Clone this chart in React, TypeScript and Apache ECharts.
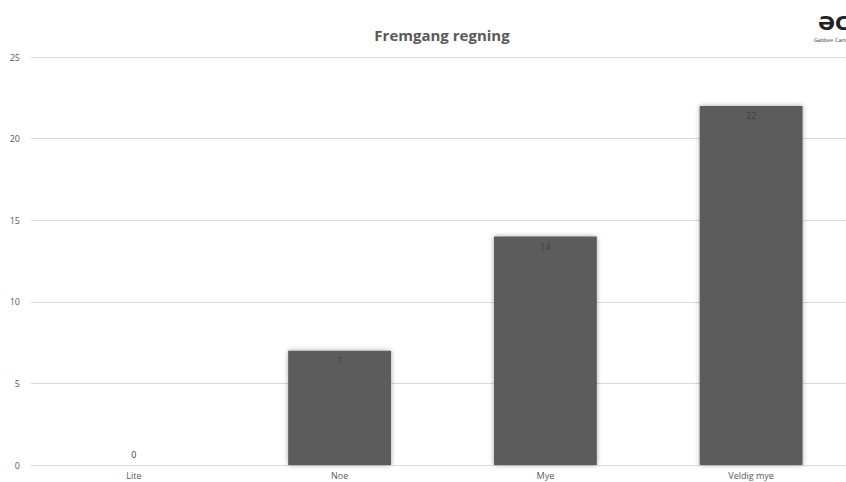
import React, { useEffect, useRef } from "react";
import * as echarts from "echarts";

const categories = ["Lite", "Noe", "Mye", "Veldig mye"];
const values = [0, 7, 14, 22];
const titleText = "Fremgang regning";
const yMax = 25;
const yInterval = 5;

export default function App() {
  const ref = useRef<HTMLDivElement>(null);
  useEffect(() => {
    if (!ref.current) return;
    const chart = echarts.init(ref.current, null, { renderer: "svg" });
    const font = "Open Sans, Liberation Sans, sans-serif";
    chart.setOption({
      animation: false,
      backgroundColor: "#ffffff",
      title: {
        text: titleText,
        left: 437,
        textAlign: "center",
        top: 22,
        textStyle: { fontFamily: font, fontSize: 15, fontWeight: "bold", color: "#595959" },
      },
      grid: { left: 31, top: 57, right: 16, bottom: 17, containLabel: false },
      xAxis: {
        type: "category",
        data: categories,
        axisLine: { show: true, lineStyle: { color: "#d9d9d9", width: 1 } },
        axisTick: { show: false },
        axisLabel: { color: "#595959", fontSize: 9, fontFamily: font, margin: 6 },
      },
      yAxis: {
        type: "value",
        min: 0,
        max: yMax,
        interval: yInterval,
        axisLine: { show: false },
        axisTick: { show: false },
        splitLine: { lineStyle: { color: "#d9d9d9", width: 1 } },
        axisLabel: { color: "#595959", fontSize: 9, fontFamily: font, margin: 11 },
      },
      series: [
        {
          type: "bar",
          barWidth: "50%",
          data: values.map((v) =>
            v === 0
              ? { value: v, label: { position: "top", distance: 6, color: "#404040" } }
              : { value: v }
          ),
          itemStyle: {
            color: "#5b5b5b",
            shadowBlur: 5,
            shadowColor: "rgba(0,0,0,0.35)",
          },
          label: {
            show: true,
            position: "insideTop",
            distance: 5,
            fontSize: 9,
            fontFamily: font,
            color: "#404040",
          },
        },
      ],
      graphic: [
        {
          type: "text",
          left: 818,
          top: 13,
          style: {
            text: "ƏC",
            font: "bold 20px 'DejaVu Sans', sans-serif",
            fill: "#222222",
          },
        },
        {
          type: "text",
          left: 814,
          top: 37,
          style: {
            text: "Gabbee Cam",
            font: "5px 'DejaVu Sans', sans-serif",
            fill: "#333333",
          },
        },
      ],
    });
    return () => chart.dispose();
  }, []);
  return (
    <div style={{ width: 846, height: 482, position: "absolute", left: 0, top: 0, overflow: "hidden" }}>
      <div ref={ref} style={{ width: 870, height: 482 }} />
    </div>
  );
}
